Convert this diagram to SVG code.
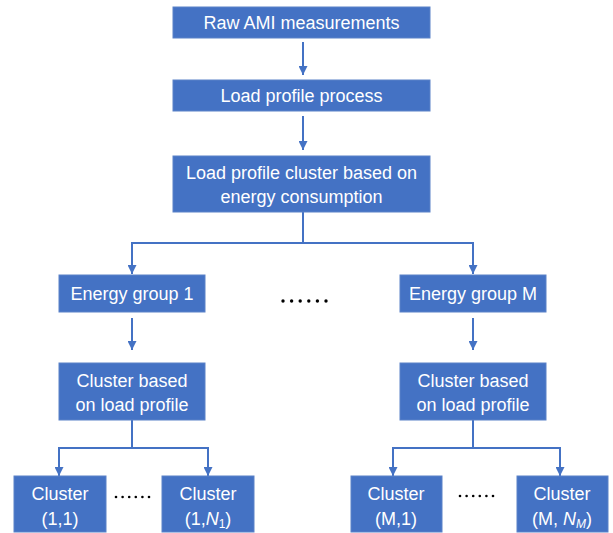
<svg xmlns="http://www.w3.org/2000/svg" width="613" height="533" viewBox="0 0 613 533">
<defs>
<style>
.box{fill:#4472C4;stroke:#5B82C8;stroke-width:1}
.t{font-family:"Liberation Sans",Arial,sans-serif;font-size:18px;fill:#FFFFFF;text-anchor:middle}
.c{fill:none;stroke:#4472C4;stroke-width:2}
.dot{fill:#000000}
</style>
<marker id="ah" viewBox="0 0 10 10" refX="10" refY="5" markerWidth="4.5" markerHeight="4.5" orient="auto" markerUnits="strokeWidth">
<path d="M0,0 L10,5 L0,10 z" fill="#4472C4"/>
</marker>
</defs>
<rect width="613" height="533" fill="#FFFFFF"/>
<g id="connectors">
<line class="c" x1="303" y1="42" x2="303" y2="75" marker-end="url(#ah)"/>
<line class="c" x1="303" y1="116" x2="303" y2="150" marker-end="url(#ah)"/>
<polyline class="c" points="303,212 303,243 132,243 132,274" marker-end="url(#ah)"/>
<polyline class="c" points="303,243 473,243 473,274" marker-end="url(#ah)"/>
<line class="c" x1="132" y1="318" x2="132" y2="350" marker-end="url(#ah)"/>
<line class="c" x1="473" y1="318" x2="473" y2="350" marker-end="url(#ah)"/>
<polyline class="c" points="132,420 132,448 59,448 59,476" marker-end="url(#ah)"/>
<polyline class="c" points="132,448 208,448 208,476" marker-end="url(#ah)"/>
<polyline class="c" points="473,420 473,448 393,448 393,476" marker-end="url(#ah)"/>
<polyline class="c" points="473,448 560,448 560,476" marker-end="url(#ah)"/>
</g>
<g id="raw">
<rect class="box" x="173" y="7" width="257" height="31"/>
<text class="t" x="301.5" y="29">Raw AMI measurements</text>
</g>
<g id="process">
<rect class="box" x="173" y="80" width="257" height="31"/>
<text class="t" x="301.5" y="102">Load profile process</text>
</g>
<g id="energycluster">
<rect class="box" x="173" y="156" width="257" height="56"/>
<text class="t" x="301.5" y="179">Load profile cluster based on</text>
<text class="t" x="301.5" y="203">energy consumption</text>
</g>
<g id="group1">
<rect class="box" x="59" y="275" width="146" height="37"/>
<text class="t" x="132" y="300">Energy group 1</text>
</g>
<g id="groupM">
<rect class="box" x="400" y="275" width="146" height="37"/>
<text class="t" x="473" y="300">Energy group M</text>
</g>
<g id="dots-mid">
<circle class="dot" cx="283" cy="301" r="1.7"/>
<circle class="dot" cx="291.6" cy="301" r="1.7"/>
<circle class="dot" cx="300.2" cy="301" r="1.7"/>
<circle class="dot" cx="308.8" cy="301" r="1.7"/>
<circle class="dot" cx="317.4" cy="301" r="1.7"/>
<circle class="dot" cx="326" cy="301" r="1.7"/>
</g>
<g id="clp1">
<rect class="box" x="59" y="363" width="146" height="57"/>
<text class="t" x="132" y="387">Cluster based</text>
<text class="t" x="132" y="411">on load profile</text>
</g>
<g id="clpM">
<rect class="box" x="400" y="363" width="146" height="57"/>
<text class="t" x="473" y="387">Cluster based</text>
<text class="t" x="473" y="411">on load profile</text>
</g>
<g id="c11">
<rect class="box" x="14" y="476" width="92" height="56"/>
<text class="t" x="60" y="500">Cluster</text>
<text class="t" x="60" y="525">(1,1)</text>
</g>
<g id="c1N">
<rect class="box" x="162" y="476" width="92" height="56"/>
<text class="t" x="208" y="500">Cluster</text>
<text class="t" x="208" y="525">(1,<tspan font-style="italic">N</tspan><tspan font-size="12" dy="3">1</tspan><tspan dy="-3">)</tspan></text>
</g>
<g id="cM1">
<rect class="box" x="351" y="476" width="91" height="56"/>
<text class="t" x="396" y="500">Cluster</text>
<text class="t" x="396" y="525">(M,1)</text>
</g>
<g id="cMN">
<rect class="box" x="517" y="476" width="91" height="56"/>
<text class="t" x="562" y="500">Cluster</text>
<text class="t" x="562" y="525">(M, <tspan font-style="italic">N</tspan><tspan font-size="12" font-style="italic" dy="3">M</tspan><tspan dy="-3">)</tspan></text>
</g>
<g id="dots-b1">
<circle class="dot" cx="116" cy="497" r="1.3"/>
<circle class="dot" cx="122.6" cy="497" r="1.3"/>
<circle class="dot" cx="129.2" cy="497" r="1.3"/>
<circle class="dot" cx="135.8" cy="497" r="1.3"/>
<circle class="dot" cx="142.4" cy="497" r="1.3"/>
<circle class="dot" cx="149" cy="497" r="1.3"/>
</g>
<g id="dots-b2">
<circle class="dot" cx="460" cy="496" r="1.3"/>
<circle class="dot" cx="466.6" cy="496" r="1.3"/>
<circle class="dot" cx="473.2" cy="496" r="1.3"/>
<circle class="dot" cx="479.8" cy="496" r="1.3"/>
<circle class="dot" cx="486.4" cy="496" r="1.3"/>
<circle class="dot" cx="493" cy="496" r="1.3"/>
</g>
</svg>
